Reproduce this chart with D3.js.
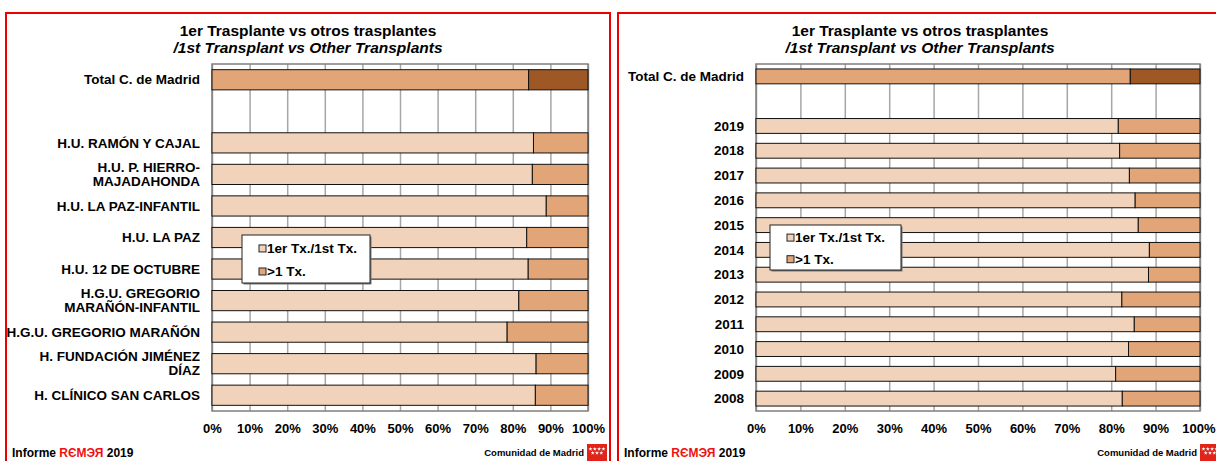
<!DOCTYPE html>
<html>
<head>
<meta charset="utf-8">
<script src="https://cdn.jsdelivr.net/npm/d3@7"></script>
<style>
  body { margin: 0; background: #fff; }
  svg { display: block; font-family: "Liberation Sans", Arial, sans-serif; }
</style>
</head>
<body>
<script>
/*
* Données (% de trasplantes)
*/

const titulo1 = '1er Trasplante vs otros trasplantes'
const titulo2 = '/1st Transplant vs Other Transplants'
const leyenda = ['1er Tx./1st Tx.', '>1 Tx.']
const ticksX = [0, 10, 20, 30, 40, 50, 60, 70, 80, 90, 100]

// hospitales ('' = hueco vacío)
const hospitales = ['Total C. de Madrid', '', 'H.U. RAMÓN Y CAJAL', 'H.U. P. HIERRO-\nMAJADAHONDA',
  'H.U. LA PAZ-INFANTIL', 'H.U. LA PAZ', 'H.U. 12 DE OCTUBRE', 'H.G.U. GREGORIO\nMARAÑÓN-INFANTIL',
  'H.G.U. GREGORIO MARAÑÓN', 'H. FUNDACIÓN JIMÉNEZ\nDÍAZ', 'H. CLÍNICO SAN CARLOS']
const hospPrimer = [84.2, null, 85.5, 85.2, 88.9, 83.7, 84.1, 81.6, 78.5, 86.2, 86.0]
const hospOtros = [15.8, null, 14.5, 14.8, 11.1, 16.3, 15.9, 18.4, 21.5, 13.8, 14.0]

// años
const anios = ['Total C. de Madrid', '', '2019', '2018', '2017', '2016', '2015', '2014',
  '2013', '2012', '2011', '2010', '2009', '2008']
const aniosPrimer = [84.3, null, 81.6, 81.9, 84.1, 85.4, 86.1, 88.6, 88.4, 82.4, 85.2, 83.9, 81.0, 82.5]
const aniosOtros = [15.7, null, 18.4, 18.1, 15.9, 14.6, 13.9, 11.4, 11.6, 17.6, 14.8, 16.1, 19.0, 17.5]

const W = 1216
const H = 461
const CLARO = '#f0d3ba'
const MEDIO = '#e1a577'
const OSCURO = '#9e5826'

const svg = d3.select('body').append('svg')
  .attr('width', W)
  .attr('height', H)

/*
* Un panel = marco rojo + título + barras apiladas
*/
function panel(o) {
  const g = svg.append('g')

  // marco rojo
  g.append('path')
    .attr('d', `M${o.px0},${H + 5} V13 H${o.px1} V${H + 5}`)
    .attr('fill', 'none')
    .attr('stroke', '#ee0000')
    .attr('stroke-width', 2)

  const cx = (o.px0 + o.px1) / 2
  g.append('text')
    .attr('x', cx).attr('y', 36)
    .attr('text-anchor', 'middle')
    .style('font-size', '15.5px').style('font-weight', 'bold')
    .text(titulo1)
  g.append('text')
    .attr('x', cx).attr('y', 53)
    .attr('text-anchor', 'middle')
    .style('font-size', '15.5px').style('font-weight', 'bold').style('font-style', 'italic')
    .text(titulo2)

  const x = d3.scaleLinear().domain([0, 100]).range([o.x0, o.x1])
  const y = d3.scaleBand().domain(d3.range(o.cats.length)).range([o.y0, o.y1]).paddingInner(o.pad).paddingOuter(o.pad / 2)

  // rejilla
  g.append('g')
    .attr('transform', `translate(0,${o.y1})`)
    .call(d3.axisBottom(x).tickValues(ticksX).tickSize(-(o.y1 - o.y0)).tickFormat(''))
    .call(a => a.select('.domain').remove())
    .call(a => a.selectAll('line').attr('stroke', '#a6a6a6').attr('stroke-width', 1.5))

  g.append('rect')
    .attr('x', o.x0).attr('y', o.y0)
    .attr('width', o.x1 - o.x0).attr('height', o.y1 - o.y0)
    .attr('fill', 'none').attr('stroke', '#7f7f7f').attr('stroke-width', 1.5)

  // barras
  const filas = o.cats.map((c, i) => ({ i, a: o.primer[i], b: o.otros[i] })).filter(d => d.a != null)
  const barras = g.append('g').selectAll('g').data(filas).join('g')
  barras.append('rect')
    .attr('x', d => x(0)).attr('y', d => y(d.i))
    .attr('width', d => x(d.a) - x(0)).attr('height', y.bandwidth())
    .attr('fill', d => d.i === 0 ? MEDIO : CLARO)
    .attr('stroke', '#111').attr('stroke-width', 1)
  barras.append('rect')
    .attr('x', d => x(d.a)).attr('y', d => y(d.i))
    .attr('width', d => x(d.a + d.b) - x(d.a)).attr('height', y.bandwidth())
    .attr('fill', d => d.i === 0 ? OSCURO : MEDIO)
    .attr('stroke', '#111').attr('stroke-width', 1)

  // etiquetas eje Y
  const etiq = g.append('g').selectAll('text').data(o.cats.map((c, i) => ({ c, i }))).join('text')
    .attr('text-anchor', 'end')
    .style('font-size', '13.5px').style('font-weight', 'bold')
  etiq.each(function (d) {
    const lineas = d.c.split('\n')
    const yc = y(d.i) + y.bandwidth() / 2
    lineas.forEach((l, k) => {
      d3.select(this).append('tspan')
        .attr('x', o.x0 - 12)
        .attr('y', yc + (k - (lineas.length - 1) / 2) * 14)
        .attr('dy', '0.35em')
        .text(l)
    })
  })

  // eje X
  const ejeX = g.append('g')
    .attr('transform', `translate(0,${o.y1})`)
    .call(d3.axisBottom(x).tickValues(ticksX).tickSize(0).tickFormat(d => d + '%'))
    .call(a => a.select('.domain').remove())
    .call(a => a.selectAll('text').attr('y', 13).attr('fill', '#000')
      .style('font-size', '13px').style('font-weight', 'bold').style('font-family', '"Liberation Sans", Arial, sans-serif'))
  // que el último rótulo no se salga del lienzo
  ejeX.selectAll('.tick text').each(function (d) {
    const w = this.getComputedTextLength()
    const sobra = x(d) + w / 2 - (W - 1)
    if (sobra > 0) d3.select(this).attr('x', -sobra)
  })

  // leyenda
  const lg = g.append('g').attr('transform', `translate(${o.lx},${o.ly})`)
  lg.append('rect').attr('x', 1.5).attr('y', 1.5).attr('width', o.lw).attr('height', o.lh).attr('fill', '#777')
  lg.append('rect').attr('width', o.lw).attr('height', o.lh).attr('fill', '#fff').attr('stroke', '#222').attr('stroke-width', 1)
  leyenda.forEach((t, k) => {
    const yy = o.lh * (k === 0 ? 0.28 : 0.76)
    lg.append('rect').attr('x', 17).attr('y', yy - 3.5).attr('width', 7).attr('height', 7)
      .attr('fill', k === 0 ? CLARO : MEDIO).attr('stroke', '#222').attr('stroke-width', 1)
    lg.append('text').attr('x', 25).attr('y', yy).attr('dy', '0.35em')
      .style('font-size', '13.5px').style('font-weight', 'bold').text(t)
  })

  // pie
  const pie = g.append('text').attr('x', o.px0 + 6).attr('y', 457)
    .style('font-size', '12px').style('font-weight', 'bold')
  pie.append('tspan').text('Informe ')
  pie.append('tspan').attr('fill', '#ee1111').text('RЄMЭЯ')
  pie.append('tspan').text(' 2019')

  g.append('text').attr('x', o.mx - 3).attr('y', 456)
    .attr('text-anchor', 'end')
    .style('font-size', '9.5px').style('font-weight', 'bold')
    .text('Comunidad de Madrid')
  g.append('rect').attr('x', o.mx).attr('y', 444).attr('width', 20).attr('height', 20).attr('fill', '#e2231a')
  const estrellas = g.append('g').attr('fill', '#fff')
  for (let r = 0; r < 2; r++) {
    for (let c = 0; c < (r === 0 ? 4 : 3); c++) {
      estrellas.append('path')
        .attr('d', d3.symbol(d3.symbolStar, 5)())
        .attr('transform', `translate(${o.mx + 3.5 + c * 4.3 + (r === 0 ? 0 : 2.2)},${449 + r * 4})`)
    }
  }
}

panel({
  px0: 6, px1: 610, x0: 212, x1: 588, y0: 64, y1: 411,
  cats: hospitales, primer: hospPrimer, otros: hospOtros, pad: 0.36,
  lx: 242, ly: 235, lw: 128, lh: 48, mx: 587
})

panel({
  px0: 618, px1: 1222, x0: 756, x1: 1200, y0: 64, y1: 411,
  cats: anios, primer: aniosPrimer, otros: aniosOtros, pad: 0.4,
  lx: 770, ly: 225, lw: 131, lh: 45, mx: 1200
})
</script>
</body>
</html>
